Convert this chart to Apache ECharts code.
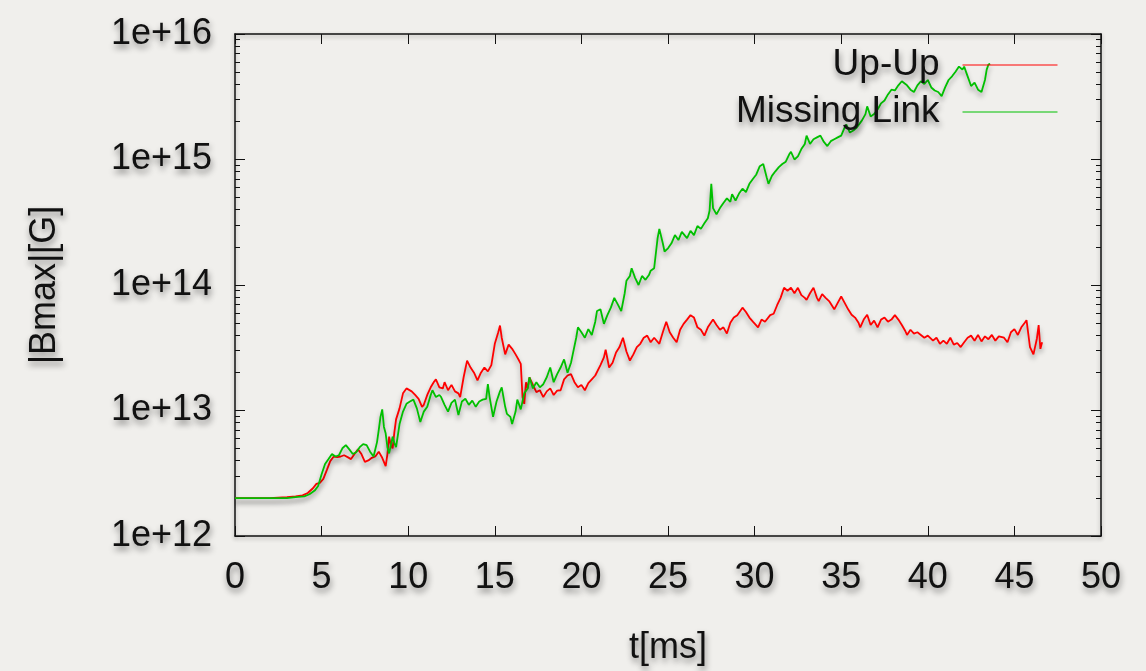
<!DOCTYPE html>
<html>
<head>
<meta charset="utf-8">
<script src="https://cdn.jsdelivr.net/npm/echarts@6/dist/echarts.min.js"></script>
<style>
  html, body { margin: 0; padding: 0; background: #f0efec; }
  #chart { width: 1146px; height: 671px; }
</style>
</head>
<body>
<div id="chart"></div>
<script>
// |Bmax| vs t, log scale.
const seriesNames = ["Up-Up", "Missing Link"];
const xTicks = [0, 5, 10, 15, 20, 25, 30, 35, 40, 45, 50];
const yTicks = [1e12, 1e13, 1e14, 1e15, 1e16];
const yMinorMantissa = [2, 3, 4, 5, 6, 7, 8, 9];

const upUp = [
  [0,2.0e12],[1,2.0e12],[2,2.0e12],[3,2.04e12],[3.5,2.07e12],[3.9,2.11e12],[4.2,2.2e12],[4.5,2.4e12],[4.7,2.6e12],[4.9,2.65e12],
  [5.1,2.85e12],[5.3,3.35e12],[5.5,3.95e12],[5.7,4.3e12],[5.9,4.25e12],[6.1,4.3e12],[6.3,4.4e12],[6.5,4.25e12],[6.7,4.1e12],[6.9,4.5e12],
  [7.1,4.9e12],[7.3,4.5e12],[7.5,3.9e12],[7.7,4.0e12],[7.9,4.2e12],[8.1,4.3e12],[8.3,4.7e12],[8.5,4.2e12],[8.7,3.6e12],[8.8,4.5e12],
  [8.9,6.2e12],[9.0,5.3e12],[9.1,5.0e12],[9.2,6.7e12],[9.3,8.5e12],[9.5,1.04e13],[9.7,1.37e13],[9.9,1.5e13],[10.0,1.53e13],[10.2,1.42e13],
  [10.4,1.33e13],[10.6,1.24e13],[10.8,1.07e13],[10.9,1.11e13],[11.1,1.33e13],[11.3,1.53e13],[11.5,1.7e13],[11.6,1.77e13],[11.8,1.53e13],[12.0,1.5e13],
  [12.1,1.68e13],[12.3,1.45e13],[12.5,1.6e13],[12.7,1.42e13],[12.9,1.37e13],[13.0,1.28e13],[13.2,1.84e13],[13.4,2.5e13],[13.6,2.2e13],[13.8,2.0e13],
  [14.0,1.74e13],[14.2,2.0e13],[14.4,2.2e13],[14.6,2.05e13],[14.8,2.3e13],[15.0,3.4e13],[15.2,4.2e13],[15.3,4.75e13],[15.4,3.8e13],[15.6,2.8e13],
  [15.8,3.35e13],[16.0,3.1e13],[16.2,2.8e13],[16.4,2.5e13],[16.5,2.35e13],[16.6,1.28e13],[16.7,1.13e13],[16.8,1.68e13],[16.9,1.5e13],[17.0,1.84e13],
  [17.2,1.6e13],[17.4,1.4e13],[17.6,1.45e13],[17.8,1.28e13],[18.0,1.42e13],[18.2,1.5e13],[18.4,1.33e13],[18.6,1.44e13],[18.8,1.45e13],[19.0,1.77e13],
  [19.2,1.9e13],[19.4,1.95e13],[19.6,1.68e13],[19.8,1.53e13],[20.0,1.6e13],[20.2,1.45e13],[20.4,1.65e13],[20.6,1.77e13],[20.8,1.9e13],[20.9,1.95e13],
  [21.1,2.3e13],[21.3,2.65e13],[21.4,3.05e13],[21.6,2.2e13],[21.8,2.4e13],[22.0,2.9e13],[22.2,3.2e13],[22.4,3.8e13],[22.6,2.95e13],[22.8,2.5e13],
  [23.0,2.8e13],[23.2,3.2e13],[23.4,3.4e13],[23.6,3.8e13],[23.8,3.95e13],[24.0,3.5e13],[24.2,3.8e13],[24.5,3.4e13],[24.7,4.2e13],[24.9,5.1e13],
  [25.1,4.2e13],[25.3,3.8e13],[25.5,3.5e13],[25.7,4.4e13],[25.9,4.9e13],[26.1,5.3e13],[26.3,5.75e13],[26.5,5.5e13],[26.7,4.6e13],[26.9,4.4e13],
  [27.1,3.95e13],[27.3,4.6e13],[27.6,5.3e13],[27.8,4.8e13],[28.0,4.4e13],[28.2,4.6e13],[28.4,4.1e13],[28.6,5.0e13],[28.8,5.5e13],[29.0,5.75e13],
  [29.3,6.6e13],[29.5,6.1e13],[29.7,5.5e13],[29.9,5.1e13],[30.2,4.6e13],[30.4,5.3e13],[30.6,5.1e13],[30.9,5.75e13],[31.1,5.9e13],[31.3,6.9e13],
  [31.5,7.9e13],[31.7,9.5e13],[31.9,9.0e13],[32.1,9.5e13],[32.3,8.6e13],[32.5,9.5e13],[32.7,8.3e13],[32.9,7.9e13],[33.0,7.6e13],[33.2,8.6e13],
  [33.4,9.5e13],[33.6,7.9e13],[33.7,7.45e13],[33.9,8.45e13],[34.1,7.9e13],[34.3,7.45e13],[34.6,6.4e13],[34.8,7.2e13],[35.0,8.1e13],[35.2,7.2e13],
  [35.4,6.4e13],[35.6,5.8e13],[35.8,5.5e13],[36.0,5.0e13],[36.1,4.6e13],[36.3,5.3e13],[36.5,5.8e13],[36.7,4.8e13],[36.9,5.2e13],[37.1,4.6e13],
  [37.3,5.3e13],[37.5,5.5e13],[37.7,5.1e13],[37.9,5.3e13],[38.1,5.75e13],[38.3,5.3e13],[38.5,4.8e13],[38.7,4.3e13],[38.8,4.0e13],[39.0,4.4e13],
  [39.2,4.1e13],[39.4,4.2e13],[39.6,4.0e13],[39.8,3.8e13],[40.0,3.95e13],[40.3,3.6e13],[40.5,3.8e13],[40.7,3.4e13],[40.9,3.6e13],[41.1,3.4e13],
  [41.3,3.8e13],[41.5,3.35e13],[41.7,3.45e13],[41.9,3.2e13],[42.1,3.5e13],[42.3,3.8e13],[42.5,3.95e13],[42.7,3.6e13],[42.9,4.0e13],[43.1,3.55e13],
  [43.3,3.9e13],[43.5,3.7e13],[43.7,4.0e13],[43.9,3.6e13],[44.1,3.9e13],[44.4,3.8e13],[44.6,3.5e13],[44.8,4.2e13],[45.0,4.45e13],[45.2,4.0e13],
  [45.4,4.6e13],[45.6,5.0e13],[45.7,5.25e13],[45.9,3.2e13],[46.1,2.8e13],[46.3,3.75e13],[46.4,4.8e13],[46.5,3.1e13],[46.6,3.5e13]
];

const missingLink = [
  [0,2.0e12],[1,2.0e12],[2,2.0e12],[3,2.0e12],[3.5,2.04e12],[4.0,2.07e12],[4.3,2.15e12],[4.6,2.3e12],[4.8,2.5e12],[5.0,3.1e12],
  [5.2,3.75e12],[5.4,4.1e12],[5.6,4.5e12],[5.8,4.3e12],[6.0,4.4e12],[6.2,5.0e12],[6.4,5.3e12],[6.6,4.9e12],[6.8,4.5e12],[7.0,4.65e12],
  [7.2,5.1e12],[7.4,5.4e12],[7.6,5.3e12],[7.8,4.7e12],[8.0,4.3e12],[8.2,5.6e12],[8.3,7.0e12],[8.4,8.9e12],[8.5,1.02e13],[8.6,7.4e12],
  [8.7,6.55e12],[8.8,5.1e12],[8.9,4.55e12],[9.0,5.3e12],[9.1,6.2e12],[9.2,5.5e12],[9.3,5.1e12],[9.5,7.8e12],[9.7,9.8e12],[9.9,1.13e13],
  [10.1,1.18e13],[10.3,1.22e13],[10.5,1.04e13],[10.7,8.1e12],[10.9,9.8e12],[11.1,1.07e13],[11.3,1.33e13],[11.4,1.45e13],[11.6,1.28e13],[11.8,1.33e13],
  [11.9,1.28e13],[12.1,1.11e13],[12.3,9.8e12],[12.5,1.15e13],[12.7,1.22e13],[12.9,9.2e12],[13.1,1.18e13],[13.3,1.24e13],[13.5,1.11e13],[13.7,1.2e13],
  [13.9,1.07e13],[14.1,1.18e13],[14.3,1.22e13],[14.5,1.24e13],[14.6,1.62e13],[14.7,1.28e13],[14.9,8.9e12],[15.1,1.18e13],[15.3,1.42e13],[15.4,1.53e13],
  [15.6,1.07e13],[15.7,9.4e12],[15.9,8.9e12],[16.0,7.8e12],[16.2,9.8e12],[16.3,1.22e13],[16.5,1.02e13],[16.7,1.37e13],[16.9,1.5e13],[17.0,1.84e13],
  [17.2,1.5e13],[17.4,1.68e13],[17.6,1.53e13],[17.8,1.62e13],[18.0,1.84e13],[18.2,2.2e13],[18.4,1.68e13],[18.6,1.95e13],[18.8,2.2e13],[19.0,2.55e13],
  [19.2,2.0e13],[19.4,2.4e13],[19.5,2.8e13],[19.7,3.8e13],[19.8,4.6e13],[20.0,4.2e13],[20.2,3.8e13],[20.4,4.45e13],[20.6,4.0e13],[20.8,5.1e13],
  [20.9,6.2e13],[21.1,6.4e13],[21.3,4.9e13],[21.5,5.75e13],[21.7,6.6e13],[21.9,7.9e13],[22.1,7.0e13],[22.3,6.2e13],[22.5,8.6e13],[22.6,1.08e14],
  [22.8,1.18e14],[22.9,1.36e14],[23.1,1.14e14],[23.3,1.0e14],[23.5,1.18e14],[23.7,1.1e14],[23.9,1.2e14],[24.0,1.3e14],[24.2,1.36e14],[24.4,2.36e14],
  [24.5,2.8e14],[24.7,2.15e14],[24.8,1.85e14],[25.0,1.96e14],[25.2,2.15e14],[25.4,2.5e14],[25.6,2.28e14],[25.8,2.65e14],[26.0,2.45e14],[26.1,2.36e14],
  [26.3,2.7e14],[26.5,2.5e14],[26.7,2.95e14],[26.9,2.8e14],[27.1,3.1e14],[27.3,3.4e14],[27.4,3.9e14],[27.5,6.4e14],[27.6,4.1e14],[27.8,3.65e14],
  [28.0,4.1e14],[28.2,4.5e14],[28.4,4.9e14],[28.6,4.6e14],[28.7,5.3e14],[28.9,4.7e14],[29.1,5.35e14],[29.3,5.85e14],[29.5,5.5e14],[29.7,6.4e14],
  [29.9,7.0e14],[30.1,7.6e14],[30.3,8.85e14],[30.5,9.2e14],[30.7,7.2e14],[30.8,6.4e14],[31.0,7.4e14],[31.2,8.05e14],[31.4,8.7e14],[31.6,9.2e14],
  [31.8,9.6e14],[32.0,1.1e15],[32.1,1.15e15],[32.3,1.0e15],[32.5,1.06e15],[32.7,1.21e15],[32.9,1.33e15],[33.0,1.55e15],[33.2,1.33e15],[33.4,1.45e15],
  [33.6,1.5e15],[33.8,1.55e15],[34.0,1.38e15],[34.2,1.28e15],[34.4,1.4e15],[34.6,1.45e15],[34.8,1.5e15],[35.0,1.55e15],[35.2,1.8e15],[35.3,1.9e15],
  [35.5,1.64e15],[35.7,1.7e15],[35.9,1.8e15],[36.0,1.74e15],[36.2,2.05e15],[36.4,2.3e15],[36.5,2.65e15],[36.7,2.2e15],[36.9,2.3e15],[37.1,2.5e15],
  [37.3,2.8e15],[37.5,2.95e15],[37.7,3.3e15],[37.9,3.6e15],[38.1,3.55e15],[38.3,3.9e15],[38.5,4.2e15],[38.6,4.3e15],[38.8,3.9e15],[39.0,3.6e15],
  [39.2,3.45e15],[39.4,3.9e15],[39.6,4.2e15],[39.8,4.0e15],[40.0,4.3e15],[40.2,3.75e15],[40.4,3.55e15],[40.6,3.45e15],[40.8,3.2e15],[41.0,3.75e15],
  [41.2,4.3e15],[41.4,4.6e15],[41.6,5.0e15],[41.8,5.5e15],[42.0,5.2e15],[42.1,5.5e15],[42.3,4.6e15],[42.5,3.85e15],[42.7,4.1e15],[42.9,3.6e15],
  [43.1,3.45e15],[43.3,4.3e15],[43.4,5.2e15],[43.5,5.7e15],[43.6,5.8e15]
];

// minor ticks 2..9 in each decade
const yMinor = yTicks.slice(0, -1).flatMap(d => yMinorMantissa.map(m => m * d));

const FONTE = "'Liberation Sans', Arial, sans-serif";
const sombraTexto = {
  textShadowColor: "rgba(0,0,0,0.45)",
  textShadowBlur: 6,
  textShadowOffsetX: 1,
  textShadowOffsetY: 4,
};
const texto = { color: "#111", fontSize: 36, fontFamily: FONTE, ...sombraTexto };
const linhaEixo = {
  show: true,
  lineStyle: { color: "#111", width: 1.5, shadowColor: "rgba(0,0,0,0.3)", shadowBlur: 4, shadowOffsetY: 2 },
};

function eixoY(position, opts) {
  return Object.assign({
    type: "log", logBase: 10, min: 1e12, max: 1e16, position,
    axisLine: { show: false }, splitLine: { show: false },
    axisLabel: { show: false },
    axisTick: { show: true, inside: true, length: 10, customValues: yTicks, lineStyle: { color: "#111", width: 1 } },
  }, opts);
}

const chart = echarts.init(document.getElementById("chart"));
chart.setOption({
  animation: false,
  backgroundColor: "#f0efec",
  textStyle: { fontFamily: FONTE },
  grid: { left: 235, right: 45, top: 34, bottom: 131 },
  legend: {
    data: seriesNames,
    orient: "vertical",
    right: 88, top: 46,
    align: "right",
    itemWidth: 95, itemHeight: 12, itemGap: 9,
    padding: 0,
    itemStyle: { opacity: 0 },
    lineStyle: { width: 1, shadowBlur: 0, shadowOffsetY: 0 },
    textStyle: { ...texto, fontSize: 37, padding: [0, 18, 0, 0], lineHeight: 38 },
  },
  xAxis: [
    {
      type: "value", min: 0, max: 50, interval: 5, position: "bottom",
      name: "t[ms]", nameLocation: "middle", nameGap: 94, nameTextStyle: texto,
      axisLine: linhaEixo, splitLine: { show: false },
      axisTick: { inside: true, length: 10, lineStyle: { color: "#111" } },
      axisLabel: { ...texto, margin: 24, customValues: xTicks },
    },
    {
      type: "value", min: 0, max: 50, interval: 5, position: "top",
      axisLine: linhaEixo, splitLine: { show: false },
      axisTick: { inside: true, length: 10, lineStyle: { color: "#111" } },
      axisLabel: { show: false },
    },
  ],
  yAxis: [
    eixoY("left", {
      axisLine: linhaEixo,
      name: "|Bmax|[G]", nameLocation: "middle", nameGap: 172, nameTextStyle: texto,
      axisLabel: { ...texto, margin: 23, customValues: yTicks, formatter: v => "1e+" + Math.round(Math.log10(v)) },
    }),
    eixoY("left", { axisTick: { show: true, inside: true, length: 5, customValues: yMinor, lineStyle: { color: "#111" } } }),
    eixoY("right", { axisLine: linhaEixo }),
    eixoY("right", { axisTick: { show: true, inside: true, length: 5, customValues: yMinor, lineStyle: { color: "#111" } } }),
  ],
  series: [
    { name: seriesNames[0], data: upUp, color: "#ff0000" },
    { name: seriesNames[1], data: missingLink, color: "#00c000" },
  ].map(s => ({
    ...s,
    type: "line",
    symbol: "none",
    xAxisIndex: 0, yAxisIndex: 0,
    lineStyle: { width: 1.8, color: s.color, shadowColor: "rgba(0,0,0,0.35)", shadowBlur: 5, shadowOffsetY: 4 },
  })),
});
</script>
</body>
</html>
